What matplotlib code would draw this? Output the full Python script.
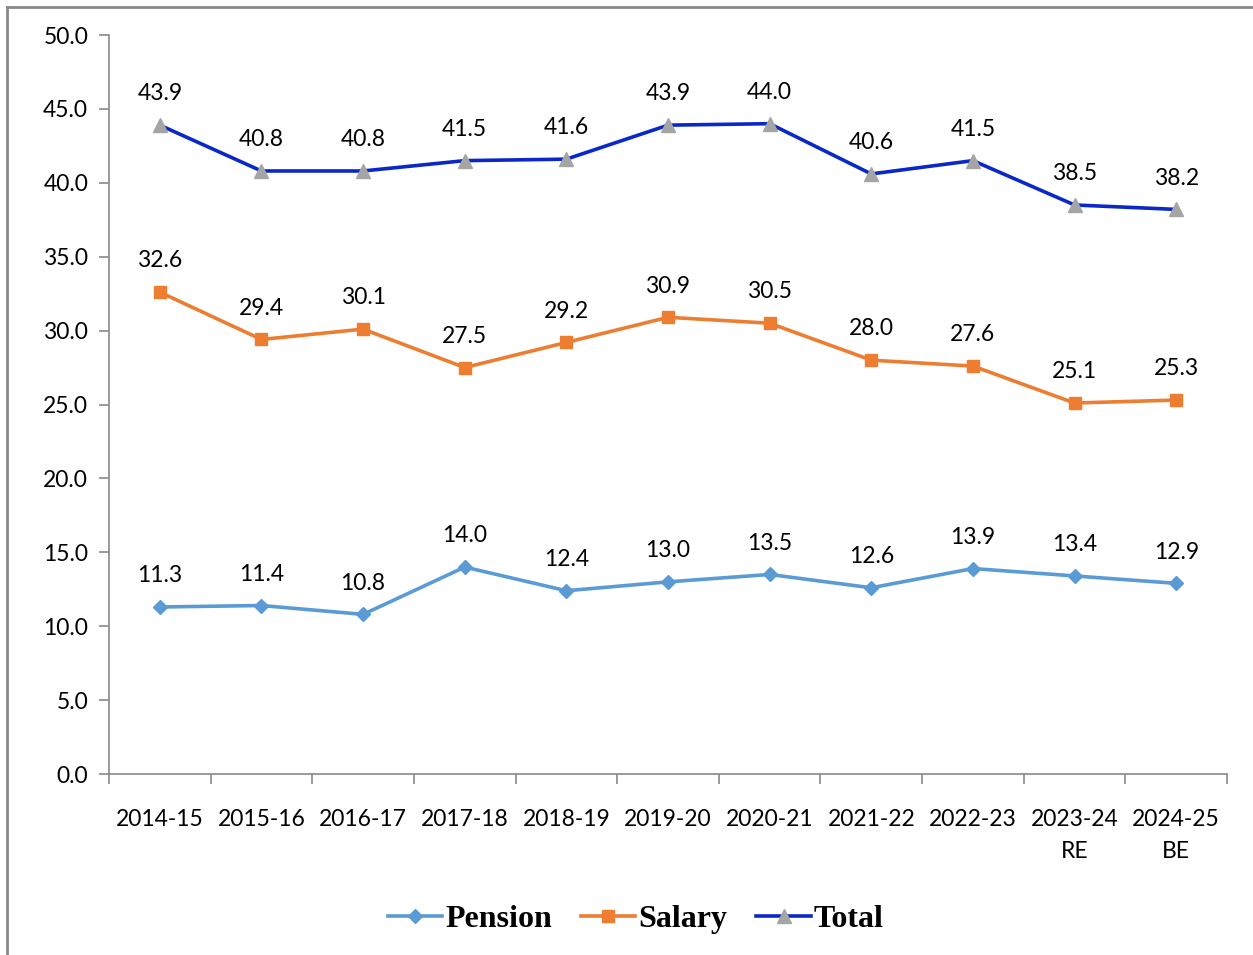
import matplotlib
matplotlib.use("Agg")
import matplotlib.pyplot as plt
from matplotlib.lines import Line2D

categories = ["2014-15", "2015-16", "2016-17", "2017-18", "2018-19", "2019-20",
              "2020-21", "2021-22", "2022-23", "2023-24\nRE", "2024-25\nBE"]
pension = [11.3, 11.4, 10.8, 14.0, 12.4, 13.0, 13.5, 12.6, 13.9, 13.4, 12.9]
salary = [32.6, 29.4, 30.1, 27.5, 29.2, 30.9, 30.5, 28.0, 27.6, 25.1, 25.3]
total = [43.9, 40.8, 40.8, 41.5, 41.6, 43.9, 44.0, 40.6, 41.5, 38.5, 38.2]

font = "Lato"
fs = 16.5
fig = plt.figure(figsize=(12.53, 9.55), dpi=100)
ax = fig.add_axes([109/1253, 1-774/955, (1227-109)/1253, (774-35)/955])

x = list(range(len(categories)))
series = [
    (pension, "Pension", "#5B9BD5", "D", "#5B9BD5", 7),
    (salary, "Salary", "#ED7D31", "s", "#ED7D31", 9),
    (total, "Total", "#0A28C8", "^", "#A5A5A5", 10),
]
handles = []
for vals, name, col, mk, mcol, ms in series:
    ax.plot(x, vals, color=col, lw=2.6, marker=mk, markersize=ms,
            markerfacecolor=mcol, markeredgecolor=mcol, zorder=3)
    for xi, v in zip(x, vals):
        ax.annotate(f"{v:.1f}", (xi, v), xytext=(0, 22.5), textcoords="offset points",
                    ha="center", va="center", fontsize=fs, family=font, color="#000000")
    handles.append(Line2D([], [], color=col, lw=2.6, marker=mk, markersize=ms,
                          markerfacecolor=mcol, markeredgecolor=mcol, label=name))

ax.set_xlim(-0.5, len(categories) - 0.5)
ax.set_ylim(0, 50)
ax.set_yticks([i * 5 for i in range(11)])
ax.set_yticklabels([f"{i*5:.1f}" for i in range(11)], family=font, fontsize=fs)
ax.set_xticks(x)
ax.set_xticklabels(categories, family=font, fontsize=fs, linespacing=1.6)
ax.set_xticks([i - 0.5 for i in range(len(categories) + 1)], minor=True)
ax.tick_params(axis="x", which="major", length=0, pad=25.5)
ax.tick_params(axis="x", which="minor", length=7, color="#898989", width=1.2)
ax.tick_params(axis="y", length=7, color="#898989", width=1.2, pad=8)
for s in ["top", "right"]:
    ax.spines[s].set_visible(False)
for s in ["left", "bottom"]:
    ax.spines[s].set_color("#898989")
    ax.spines[s].set_linewidth(1.2)

leg = fig.legend(handles=handles, loc="center", bbox_to_anchor=(636/1253, 1-919/955),
                 ncol=3, frameon=False, handlelength=1.7, columnspacing=0.9,
                 handletextpad=0.1,
                 prop={"family": "Liberation Serif", "weight": "bold", "size": 23})

# outer border (left and top)
fig.add_artist(Line2D([7/1253, 7/1253], [0, 1-7/955], transform=fig.transFigure,
                      color="#898989", lw=2))
fig.add_artist(Line2D([7/1253, 1], [1-7/955, 1-7/955], transform=fig.transFigure,
                      color="#898989", lw=2))

fig.savefig("out.png", dpi=100)
